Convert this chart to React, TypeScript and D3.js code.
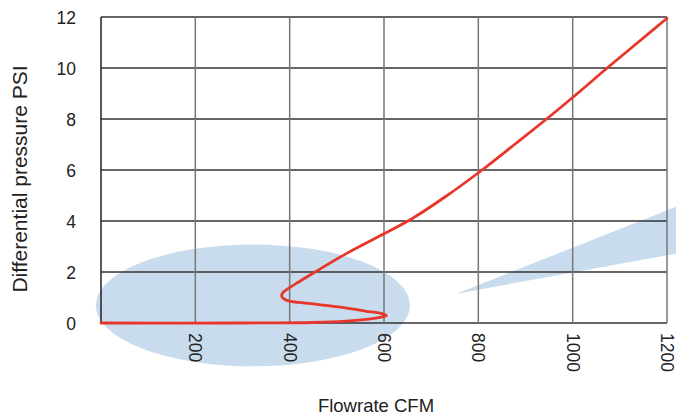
import React from "react";
import * as d3 from "d3";

const W = 676;
const H = 415;

const xTicks = [200, 400, 600, 800, 1000, 1200];
const yTicks = [0, 2, 4, 6, 8, 10, 12];
const xGrid = [0, 200, 400, 600, 800, 1000, 1200];

// Flowrate (CFM), Differential pressure (PSI) along the curve
const curveFlow = [0, 300, 450, 520, 568, 594, 605, 597, 560, 507, 440, 402, 389, 383, 386, 396, 420, 454, 520, 600, 660, 730, 808, 880, 948, 1010, 1070, 1135, 1200];
const curvePsi = [0, 0, 0.02, 0.07, 0.15, 0.23, 0.29, 0.36, 0.47, 0.62, 0.77, 0.85, 0.93, 1.05, 1.2, 1.34, 1.62, 2.0, 2.72, 3.5, 4.1, 4.95, 6.0, 7.05, 8.05, 9.0, 9.95, 10.95, 11.95];

// highlight ellipse (center/radii in data units)
const ellipseCenter = [322, 0.69];
const ellipseRadii = [333, 2.39];
// highlight wedge (tip, upper end, lower end) in data units
const wedgeFlow = [752, 1240, 1240];
const wedgePsi = [1.14, 4.71, 2.79];

export default function App() {
  const x = d3.scaleLinear().domain([0, 1200]).range([101, 667]);
  const y = d3.scaleLinear().domain([0, 12]).range([323, 17]);

  const pts: [number, number][] = curveFlow.map((f, i) => [x(f), y(curvePsi[i])]);
  const line = d3.line().curve(d3.curveCatmullRom.alpha(0.5))(pts) || "";

  const wedge = d3.line()(wedgeFlow.map((f, i) => [x(f), y(wedgePsi[i])] as [number, number])) + "Z";

  const font = "'Liberation Sans', Arial, Helvetica, sans-serif";
  const blue = "#c9dcee";

  return (
    <div style={{ position: "absolute", left: 0, top: 0 }}>
      <svg width={W} height={H} style={{ display: "block" }} fontFamily={font}>
        <rect width={W} height={H} fill="#fff" />
        <ellipse
          cx={x(ellipseCenter[0])}
          cy={y(ellipseCenter[1])}
          rx={x(ellipseRadii[0]) - x(0)}
          ry={y(0) - y(ellipseRadii[1])}
          fill={blue}
        />
        <path d={wedge} fill={blue} />
        {yTicks.map((t) => (
          <line key={"h" + t} x1={x(0)} x2={x(1200)} y1={y(t)} y2={y(t)} stroke="#333" strokeWidth={1.3} />
        ))}
        {xGrid.map((t) => (
          <line
            key={"v" + t}
            x1={x(t)}
            x2={x(t)}
            y1={y(0)}
            y2={y(12)}
            stroke={t === 0 ? "#222" : "#777"}
            strokeWidth={1.5}
          />
        ))}
        <path d={line} fill="none" stroke="#e8372a" strokeWidth={2.8} strokeLinejoin="round" strokeLinecap="round" />
        {yTicks.map((t) => (
          <text key={"yl" + t} x={76} y={y(t) + 1} dy="0.35em" textAnchor="end" fontSize={17.5} fill="#222">
            {t}
          </text>
        ))}
        {xTicks.map((t) => (
          <text
            key={"xl" + t}
            transform={`translate(${x(t)},333) rotate(90)`}
            dy="0.35em"
            textAnchor="start"
            fontSize={17.5}
            fill="#222"
          >
            {t}
          </text>
        ))}
        <text x={376} y={411.5} textAnchor="middle" fontSize={18.5} fill="#222">
          Flowrate CFM
        </text>
        <text transform="translate(27,179) rotate(-90)" textAnchor="middle" fontSize={21} fill="#222">
          Differential pressure PSI
        </text>
      </svg>
    </div>
  );
}
